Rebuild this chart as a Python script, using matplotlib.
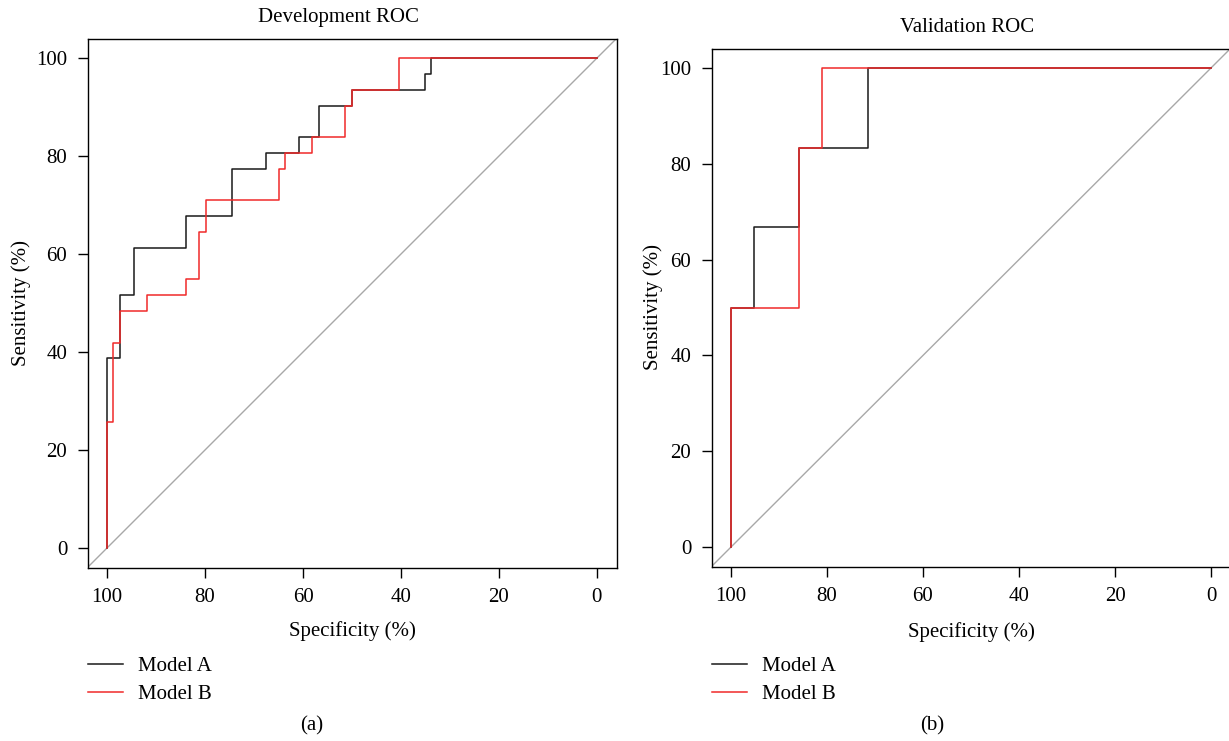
import matplotlib

matplotlib.use("Agg")
import matplotlib.pyplot as plt
from matplotlib.lines import Line2D

plt.rcParams["font.family"] = ["Liberation Serif", "DejaVu Serif"]
plt.rcParams["font.size"] = 15

# ROC corner points (specificity %, sensitivity %)
dev_a_spec = [100, 97.4, 94.6, 83.9, 74.4, 67.6, 60.9, 56.8, 50.1, 35.1, 33.9, 0]
dev_a_sens = [0, 38.7, 51.6, 61.3, 67.7, 77.4, 80.6, 83.9, 90.3, 93.5, 96.8, 100]
dev_b_spec = [100, 98.7, 97.4, 91.9, 83.9, 81.2, 79.8, 64.9, 63.6, 58.2, 51.4, 50.1, 40.5, 0]
dev_b_sens = [0, 25.8, 41.9, 48.4, 51.6, 54.8, 64.5, 71.0, 77.4, 80.6, 83.9, 90.3, 93.5, 100]

val_a_spec = [100, 95.2, 85.7, 71.4, 0]
val_a_sens = [0, 50.0, 66.7, 83.3, 100]
val_b_spec = [100, 85.7, 81.0, 0]
val_b_sens = [0, 50.0, 83.3, 100]

ticks = [0, 20, 40, 60, 80, 100]
col_a = "#1a1a1a"
col_b = "#f02a2a"
col_diag = "#a8a8a8"

W, H = 1229, 741
fig = plt.figure(figsize=(W / 100, H / 100), dpi=100)


def px_axes(x0, y0, x1, y1):
    return fig.add_axes([x0 / W, 1 - y1 / H, (x1 - x0) / W, (y1 - y0) / H])


def draw_panel(ax, title, a_spec, a_sens, b_spec, b_sens, title_x, ylab_x, xlab_y):
    ax.axline((100, 0), (0, 100), color=col_diag, lw=1.0, zorder=1)
    ax.step(a_spec, a_sens, where="pre", color=col_a, lw=1.1, zorder=2)
    ax.step(b_spec, b_sens, where="pre", color=col_b, lw=1.1, zorder=3)
    ax.set_xlim(104, -4)
    ax.set_ylim(-4, 104)
    ax.set_xticks(ticks)
    ax.set_yticks(ticks)
    ax.tick_params(direction="out", length=7.5, width=1.0, labelsize=15)
    ax.tick_params(axis="x", pad=7)
    ax.tick_params(axis="y", pad=7)
    for s in ax.spines.values():
        s.set_linewidth(1.0)
    ax.set_xlabel("Specificity (%)")
    ax.set_ylabel("Sensitivity (%)")
    ax.xaxis.set_label_coords(0.5, xlab_y)
    ax.yaxis.set_label_coords(ylab_x, 0.5)
    ax.set_title(title, fontsize=15, x=title_x, y=1.031, pad=0)


ax1 = px_axes(87.5, 38.5, 616.5, 567.5)
draw_panel(ax1, "Development ROC", dev_a_spec, dev_a_sens, dev_b_spec, dev_b_sens,
           title_x=0.475, ylab_x=-0.107, xlab_y=-0.101)

ax2 = px_axes(711.5, 48.5, 1230.5, 566.5)
draw_panel(ax2, "Validation ROC", val_a_spec, val_a_sens, val_b_spec, val_b_sens,
           title_x=0.493, ylab_x=-0.093, xlab_y=-0.107)

handles = [Line2D([], [], color=col_a, lw=1.1), Line2D([], [], color=col_b, lw=1.1)]
for x0 in (88.3 / W, 711.7 / W):
    fig.legend(handles, ["Model A", "Model B"], loc="upper left",
               bbox_to_anchor=(x0, 1 - 656.5 / H), frameon=False, fontsize=15,
               handlelength=1.68, handletextpad=0.72, labelspacing=0.4,
               borderpad=0, borderaxespad=0)

fig.text(312 / W, 1 - 726 / H, "(a)", ha="center", va="center", fontsize=15)
fig.text(932 / W, 1 - 726 / H, "(b)", ha="center", va="center", fontsize=15)

fig.savefig("out.png", dpi=100)
